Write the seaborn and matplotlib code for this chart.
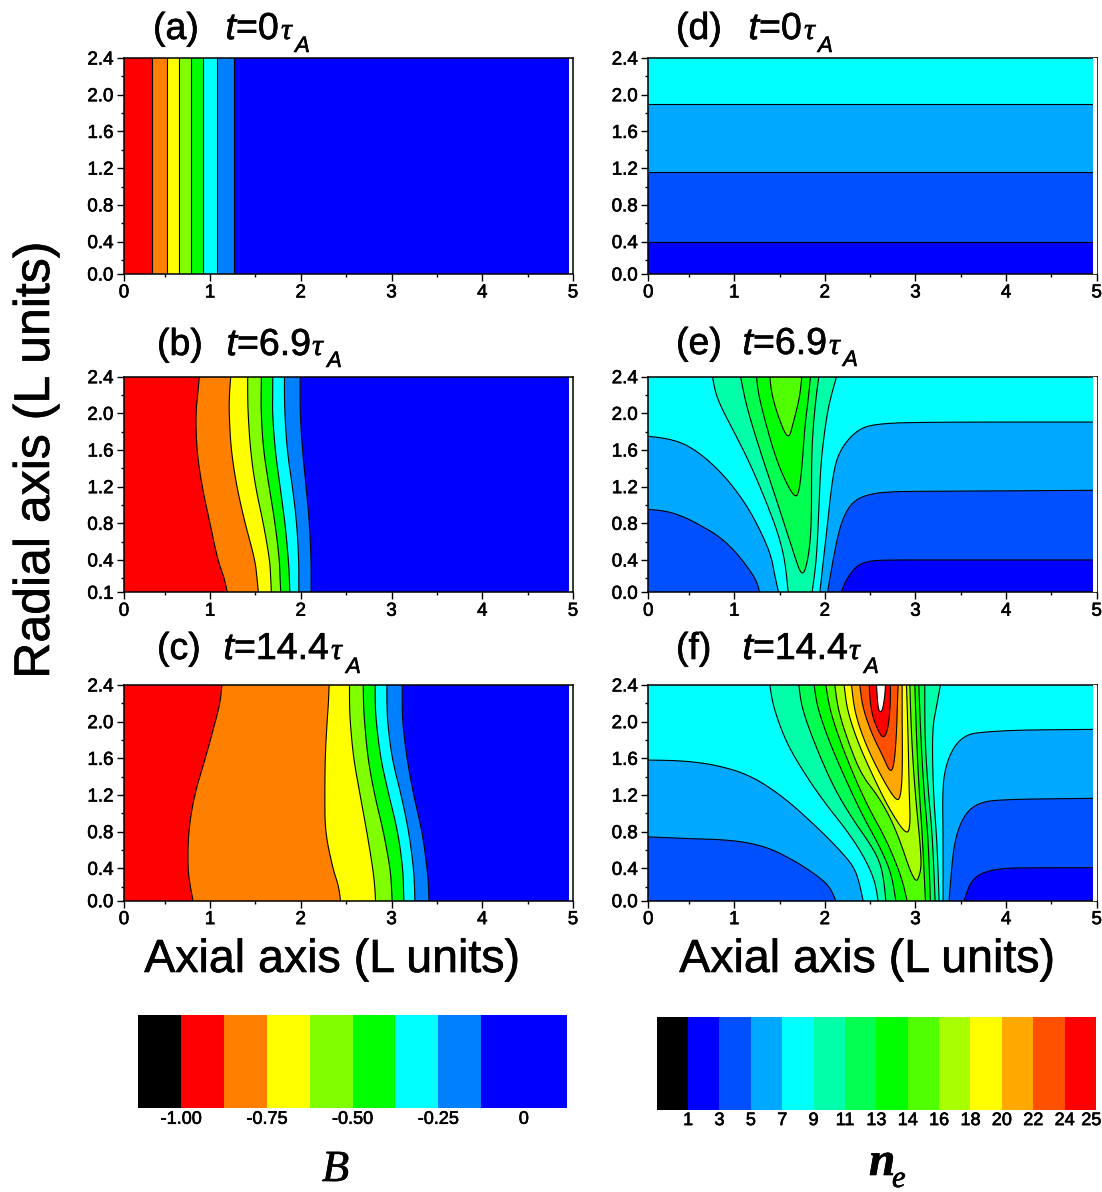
#Contour panels of B and n_e with seaborn colour bars

#Imports
import numpy as np
import matplotlib
matplotlib.use("Agg")
import matplotlib.pyplot as plt
import matplotlib.patheffects as pe
from matplotlib.colors import ListedColormap
from matplotlib.text import Text
import seaborn as sea

sea.set_theme(style = "ticks")
plt.rcParams['font.family'] = ['Liberation Sans', 'DejaVu Sans']

W, H = 1102, 1192

#Axis
x_start, r_start = 0.052, 0.047
x_major = [x_start, 1, 2, 3, 4, 5]
x_minor = [0.5, 1.5, 2.5, 3.5, 4.5]
x_labels = ['0', '1', '2', '3', '4', '5']
r_major = [r_start, 0.4, 0.8, 1.2, 1.6, 2.0, 2.4]
r_minor = [0.2, 0.6, 1.0, 1.4, 1.8, 2.2]
r_labels = ['0.0', '0.4', '0.8', '1.2', '1.6', '2.0', '2.4']
r_labels_b = ['0.1', '0.4', '0.8', '1.2', '1.6', '2.0', '2.4']

#Colours of the bars
B_colors = ['#000000', '#ff0000', '#ff8000', '#ffff00', '#80ff00', '#00ff00', '#00ffff', '#0080ff', '#0000ff']
B_bins = [0, 1, 2, 3, 4, 5, 6, 7, 8, 8]
B_ticks = ['-1.00', '-0.75', '-0.50', '-0.25', '0']
ne_colors = ['#000000', '#0000ff', '#0050ff', '#00a8ff', '#00ffff', '#00ffa8', '#00ff50', '#00ff00',
             '#50ff00', '#a8ff00', '#ffff00', '#ffa800', '#ff5000', '#ff0000']
ne_ticks = ['1', '3', '5', '7', '9', '11', '13', '14', '16', '18', '20', '22', '24', '25']

#Field B: axial position of each contour at these radii
B_r = [2.4, 2.2, 2.0, 1.6, 1.2, 0.8, 0.4, 0.2, 0.047]

a_c1 = [.364] * 9
a_c2 = [.529] * 9
a_c3 = [.662] * 9
a_c4 = [.79] * 9
a_c5 = [.926] * 9
a_c6 = [1.081] * 9
a_c7 = [1.265] * 9

b_c1 = [.882, .864, .842, .853, .912, 1.0, 1.085, 1.158, 1.191]
b_c2 = [1.228, 1.213, 1.21, 1.232, 1.294, 1.386, 1.496, 1.518, 1.533]
b_c3 = [1.415, 1.415, 1.419, 1.445, 1.5, 1.588, 1.658, 1.669, 1.676]
b_c4 = [1.566, 1.563, 1.563, 1.588, 1.651, 1.717, 1.765, 1.772, 1.779]
b_c5 = [1.691, 1.691, 1.688, 1.717, 1.772, 1.827, 1.864, 1.875, 1.879]
b_c6 = [1.82, 1.82, 1.824, 1.849, 1.908, 1.956, 1.978, 1.978, 1.978]
b_c7 = [1.993, 1.993, 1.993, 2.018, 2.059, 2.096, 2.114, 2.114, 2.114]

c_c1 = [1.132, 1.11, 1.059, .949, .827, .761, .754, .783, .813]
c_c2 = [2.313, 2.305, 2.29, 2.268, 2.265, 2.268, 2.353, 2.419, 2.438]
c_c3 = [2.537, 2.537, 2.544, 2.581, 2.654, 2.728, 2.794, 2.816, 2.824]
c_c4 = [2.688, 2.691, 2.702, 2.739, 2.813, 2.912, 2.985, 3.0, 3.007]
c_c5 = [2.82, 2.82, 2.831, 2.879, 2.971, 3.07, 3.125, 3.132, 3.136]
c_c6 = [2.949, 2.949, 2.956, 3.004, 3.107, 3.191, 3.243, 3.254, 3.257]
c_c7 = [3.118, 3.118, 3.121, 3.169, 3.243, 3.338, 3.393, 3.408, 3.412]

#Field n_e, panel d: contour radii
d_r3 = [.40, .40]
d_r5 = [1.16, 1.16]
d_r7 = [1.90, 1.90]
d_x = [0, 5]

#Panel e: contour lines, left part (a) and right part (b) of each level
e3a_x, e3a_r = [0], [.047]
e3b_x = [2.18, 2.22, 2.28, 2.37, 2.50, 2.68, 3.19, 5]
e3b_r = [.047, .15, .25, .35, .39, .40, .40, .40]
e5a_x = [0, .25, .44, .62, .84, 1.03, 1.17, 1.25, 1.28]
e5a_r = [.956, .935, .873, .782, .655, .473, .291, .164, .047]
e5b_x = [2.03, 2.09, 2.165, 2.26, 2.39, 2.64, 3.19, 5]
e5b_r = [.047, .4, .764, .98, 1.09, 1.145, 1.15, 1.16]
e7a_x = [0, .25, .44, .62, .81, .99, 1.17, 1.32, 1.41, 1.45, 1.49]
e7a_r = [1.756, 1.727, 1.673, 1.564, 1.4, 1.2, .945, .655, .436, .218, .047]
e7b_x = [1.945, 1.98, 2.026, 2.09, 2.165, 2.35, 2.57, 3.19, 5]
e7b_r = [.047, .364, .764, 1.345, 1.6, 1.818, 1.89, 1.905, 1.905]
e9a_x = [.76, .805, 1.026, 1.173, 1.338, 1.485, 1.559, 1.596]
e9a_r = [2.4, 2.164, 1.745, 1.455, 1.073, .691, .4, .047]
e9b_x = [1.86, 1.908, 1.934, 1.952, 1.98, 2.037, 2.129]
e9b_r = [.047, .4, .945, 1.38, 1.673, 2.073, 2.4]
e11_x = [1.07, 1.136, 1.283, 1.467, 1.651, 1.75, 1.816, 1.853, 1.853, 1.871, 1.908, 1.934]
e11_r = [2.4, 2.073, 1.6, 1.055, .49, .20, .4, .764, 1.49, 1.855, 2.218, 2.4]
e13_x = [1.246, 1.265, 1.357, 1.467, 1.577, 1.658, 1.706, 1.743, 1.779, 1.816, 1.842]
e13_r = [2.4, 2.218, 1.855, 1.49, 1.236, 1.10, 1.10, 1.345, 1.855, 2.145, 2.4]
e14_x = [1.393, 1.412, 1.485, 1.596, 1.651, 1.724, 1.746]
e14_r = [2.4, 2.218, 1.964, 1.70, 1.891, 2.182, 2.4]

#Panel f
f3a_x, f3a_r = [0], [.047]
f3b_x = [3.537, 3.6, 3.71, 3.93, 4.298, 5]
f3b_r = [.047, .236, .345, .4, .407, .407]
f5a_x = [0, .4375, .989, 1.357, 1.651, 1.908, 2.055, 2.121]
f5a_r = [.745, .727, .709, .636, .491, .327, .2, .047]
f5b_x = [3.371, 3.397, 3.434, 3.526, 3.673, 3.93, 5]
f5b_r = [.047, .382, .709, .964, 1.109, 1.153, 1.164]
f7a_x = [0, .4375, .805, 1.173, 1.541, 1.908, 2.165, 2.349, 2.423]
f7a_r = [1.582, 1.575, 1.527, 1.418, 1.182, .855, .6, .382, .047]
f7b_x = [3.305, 3.305, 3.298, 3.342, 3.434, 3.562, 3.71, 4.114, 5]
f7b_r = [.047, .745, 1.291, 1.545, 1.745, 1.855, 1.884, 1.909, 1.916]
f9a_x = [1.393, 1.43, 1.577, 1.798, 2.018, 2.239, 2.423, 2.551, 2.588]
f9a_r = [2.4, 2.164, 1.764, 1.4, 1.091, .818, .545, .273, .047]
f9b_x = [3.261, 3.239, 3.195, 3.184, 3.232, 3.276]
f9b_r = [.047, .673, 1.255, 1.909, 2.164, 2.4]
f11a_x = [1.713, 1.743, 1.871, 2.092, 2.313, 2.496, 2.607, 2.651, 2.673]
f11a_r = [2.4, 2.164, 1.8, 1.291, .927, .673, .473, .273, .047]
f11b_x = [3.217, 3.188, 3.14, 3.103, 3.103]
f11b_r = [.047, .745, 1.255, 1.836, 2.4]
f13a_x = [1.882, 1.915, 2.055, 2.257, 2.423, 2.607, 2.735, 2.783]
f13a_r = [2.4, 2.164, 1.764, 1.309, .964, .636, .345, .047]
f13b_x = [3.165, 3.14, 3.092, 3.059, 3.037]
f13b_r = [.047, .745, 1.255, 1.836, 2.4]
f14a_x = [2.011, 2.055, 2.184, 2.349, 2.496, 2.68, 2.846, 2.908]
f14a_r = [2.4, 2.127, 1.745, 1.345, 1.036, .709, .309, .047]
f14b_x = [3.11, 3.077, 3.04, 3.011, 2.993]
f14b_r = [.047, .745, 1.255, 1.836, 2.4]
f16_x = [2.11, 2.147, 2.257, 2.404, 2.607, 2.79, 2.993, 3.055, 3.066, 2.993, 2.956, 2.938]
f16_r = [2.4, 2.127, 1.782, 1.418, 1.164, .818, .22, .34, .527, 1.255, 1.836, 2.4]
f18_x = [2.213, 2.246, 2.368, 2.551, 2.717, 2.901, 2.945, 2.93, 2.919, 2.901]
f18_r = [2.4, 2.127, 1.764, 1.364, 1.036, .76, .86, 1.255, 1.836, 2.4]
f20_x = [2.294, 2.331, 2.46, 2.643, 2.79, 2.838, 2.857, 2.853, 2.853]
f20_r = [2.4, 2.091, 1.727, 1.364, 1.13, 1.18, 1.473, 2.018, 2.4]
f22_x = [2.386, 2.415, 2.515, 2.643, 2.717, 2.761, 2.79, 2.801, 2.809]
f22_r = [2.4, 2.164, 1.873, 1.618, 1.45, 1.50, 1.836, 2.2, 2.4]
f24_x = [2.489, 2.504, 2.551, 2.643, 2.699, 2.724, 2.724]
f24_r = [2.4, 2.164, 1.982, 1.80, 1.92, 2.2, 2.4]
f25_x = [2.57, 2.588, 2.632, 2.662, 2.669]
f25_r = [2.4, 2.12, 2.10, 2.273, 2.4]

#Rounds off a contour line, the ends stay where they are
def smooth(x, r):
    pts = np.column_stack([x, r]).astype(float)
    if len(pts) < 3:
        return pts
    for _ in range(3):
        q = 0.75 * pts[:-1] + 0.25 * pts[1:]
        s = 0.25 * pts[:-1] + 0.75 * pts[1:]
        mid = np.empty((2 * len(q), 2))
        mid[0::2] = q
        mid[1::2] = s
        pts = np.vstack([pts[:1], mid[1:-1], pts[-1:]])
    return pts

#Makes the axes of a panel from its edges in pixels
def panel(left, right, top, bottom, ylabels):
    ax = fig.add_axes([left / W, 1 - bottom / H, (right - left) / W, (bottom - top) / H])
    ax.set_xlim(x_start, 5)
    ax.set_ylim(r_start, 2.4)
    ax.set_xticks(x_major, x_labels)
    ax.set_xticks(x_minor, minor = True)
    ax.set_yticks(r_major, ylabels)
    ax.set_yticks(r_minor, minor = True)
    ax.tick_params(which = 'major', length = 5, width = 1, labelsize = 13.5, pad = 2.5, color = 'black', labelcolor = 'black')
    ax.tick_params(which = 'minor', length = 2.5, width = 1, color = 'black')
    for s in ax.spines.values():
        s.set_linewidth(1.1)
        s.set_color('black')
        s.set_zorder(20)
    ax.grid(False)
    return ax

#B panels: the colour left of each contour goes on top of the one to its right
def draw_B(ax, contours):
    ax.axhspan(0, 2.4, color = B_colors[8], lw = 0, zorder = 1)
    for i in range(6, -1, -1):
        p = smooth(contours[i], B_r)
        ax.fill(np.r_[p[:, 0], -1, -1], np.r_[p[:, 1], 0, 2.4], color = B_colors[i + 1], lw = 0, zorder = 2)
        ax.plot(p[:, 0], p[:, 1], color = 'black', lw = 0.8, zorder = 3)
    ax.axvspan(4.96, 5, color = 'white', lw = 0, zorder = 10)

#n_e panels: every level is one polygon closed along the top edge
def draw_ne(ax, levels):
    ax.axhspan(0, 2.4, color = ne_colors[1], lw = 0, zorder = 1)
    for i, pieces in enumerate(levels):
        color = ne_colors[i + 2] if i + 2 < len(ne_colors) else 'white'
        pts = np.vstack([smooth(x, r) for x, r in pieces])
        xs = np.r_[pts[:, 0], pts[-1, 0], pts[0, 0]]
        rs = np.r_[pts[:, 1], 2.4, 2.4]
        ax.fill(xs, rs, color = color, lw = 0, zorder = 2 + i)
        for x, r in pieces:
            if len(x) > 1:
                p = smooth(x, r)
                ax.plot(p[:, 0], p[:, 1], color = 'black', lw = 0.8, zorder = 2 + i)
    ax.axvspan(4.96, 5, color = 'white', lw = 0, zorder = 30)

#Text placed in picture pixels, y is the baseline
def put(x, y, s, size, **kw):
    fig.text(x / W, 1 - y / H, s, fontsize = size, ha = kw.pop('ha', 'left'), va = kw.pop('va', 'baseline'), color = 'black', **kw)

#Panel heading
def heading(x0, name, xt, value, xtau, xa, base, suby):
    put(x0, base, name, 27)
    put(xt - 2.5, base, 't', 27, style = 'italic')
    put(xt + 8, base, value, 27)
    put(xtau, base, 'τ', 22, family = 'Liberation Serif', style = 'italic')
    put(xa, suby, 'A', 16, style = 'italic')

fig = plt.figure(figsize = (W / 100, H / 100), dpi = 100)

ax_a = panel(124, 573, 58, 274, r_labels)
ax_b = panel(124, 573, 376.7, 592.3, r_labels_b)
ax_c = panel(124, 573, 685, 900.7, r_labels)
ax_d = panel(648.3, 1096.7, 58, 274, r_labels)
ax_e = panel(648.3, 1096.7, 376.7, 592.3, r_labels)
ax_f = panel(648.3, 1096.7, 685, 900.7, r_labels)

draw_B(ax_a, [a_c1, a_c2, a_c3, a_c4, a_c5, a_c6, a_c7])
draw_B(ax_b, [b_c1, b_c2, b_c3, b_c4, b_c5, b_c6, b_c7])
draw_B(ax_c, [c_c1, c_c2, c_c3, c_c4, c_c5, c_c6, c_c7])

draw_ne(ax_d, [[(d_x, d_r3)], [(d_x, d_r5)], [(d_x, d_r7)]])
draw_ne(ax_e, [[(e3a_x, e3a_r), (e3b_x, e3b_r)],
               [(e5a_x, e5a_r), (e5b_x, e5b_r)],
               [(e7a_x, e7a_r), (e7b_x, e7b_r)],
               [(e9a_x, e9a_r), (e9b_x, e9b_r)],
               [(e11_x, e11_r)], [(e13_x, e13_r)], [(e14_x, e14_r)]])
draw_ne(ax_f, [[(f3a_x, f3a_r), (f3b_x, f3b_r)],
               [(f5a_x, f5a_r), (f5b_x, f5b_r)],
               [(f7a_x, f7a_r), (f7b_x, f7b_r)],
               [(f9a_x, f9a_r), (f9b_x, f9b_r)],
               [(f11a_x, f11a_r), (f11b_x, f11b_r)],
               [(f13a_x, f13a_r), (f13b_x, f13b_r)],
               [(f14a_x, f14a_r), (f14b_x, f14b_r)],
               [(f16_x, f16_r)], [(f18_x, f18_r)], [(f20_x, f20_r)],
               [(f22_x, f22_r)], [(f24_x, f24_r)], [(f25_x, f25_r)]])

#Headings
heading(153, '(a)', 228, '=0', 281, 295, 39, 52)
heading(157, '(b)', 229, '=6.9', 312, 327, 355, 367)
heading(157, '(c)', 226, '=14.4', 331, 346, 659, 673)
heading(676, '(d)', 751, '=0', 804, 818, 39, 52)
heading(676, '(e)', 745, '=6.9', 829, 843, 354, 366)
heading(676, '(f)', 745, '=14.4', 849, 864, 659, 673)

#Axis titles
put(332, 972, 'Axial axis (L units)', 33.5, ha = 'center')
put(867, 972, 'Axial axis (L units)', 33.5, ha = 'center')
put(36, 460, 'Radial axis (L units)', 36, rotation = 90, ha = 'center', va = 'center')

#Colour bars
ax_B = fig.add_axes([138.3 / W, 1 - 1108 / H, 428.4 / W, 93 / H])
sea.heatmap([B_bins], ax = ax_B, cmap = ListedColormap(B_colors), vmin = 0, vmax = 8, cbar = False)
ax_B.set_xticks([1, 3, 5, 7, 9], B_ticks, rotation = 0)
ax_B.set_yticks([])
ax_B.tick_params(axis = 'x', length = 0, labelsize = 13, pad = 2, labelcolor = 'black')

ax_ne = fig.add_axes([656.7 / W, 1 - 1110 / H, 439.3 / W, 93.3 / H])
sea.heatmap([list(range(14))], ax = ax_ne, cmap = ListedColormap(ne_colors), vmin = 0, vmax = 13, cbar = False)
ax_ne.set_xticks(list(range(1, 14)) + [13.85], ne_ticks, rotation = 0)
ax_ne.set_yticks([])
ax_ne.tick_params(axis = 'x', length = 0, labelsize = 13, pad = 1.5, labelcolor = 'black')

put(322, 1181, 'B', 32, family = 'Liberation Serif', style = 'italic')
put(869, 1175, 'n', 34, family = 'Liberation Serif', style = 'italic', weight = 'bold')
put(892, 1187, 'e', 22, family = 'Liberation Serif', style = 'italic')

#The lettering of the original is a bit heavier
for t in fig.findobj(Text):
    t.set_path_effects([pe.withStroke(linewidth = 0.45, foreground = 'black')])

fig.savefig("out.png", dpi = 100)
